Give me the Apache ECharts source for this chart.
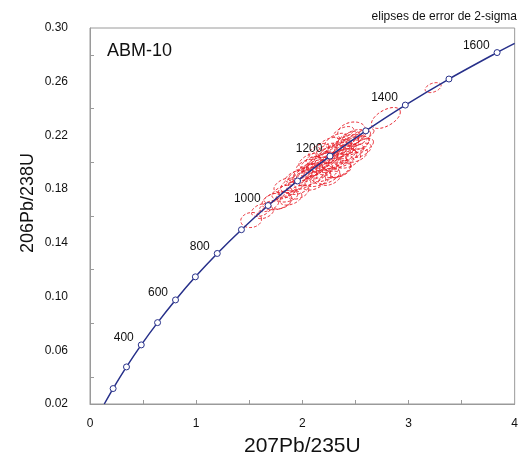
<!DOCTYPE html>
<html><head><meta charset="utf-8">
<script src="https://cdn.jsdelivr.net/npm/echarts@6/dist/echarts.min.js"></script>
<style>html,body{margin:0;padding:0;background:#fff}#c{width:521px;height:462px}</style>
</head><body><div id="c"></div>
<script>
// Concordia age markers (Ma) and their ratios
const markerAges = [200, 300, 400, 500, 600, 700, 800, 900, 1000, 1100, 1200, 1300, 1400, 1500, 1600];
const markerX = [0.2177, 0.3437, 0.4828, 0.6363, 0.8056, 0.9925, 1.1987, 1.4263, 1.6774, 1.9545, 2.2603, 2.5977, 2.9701, 3.3810, 3.8344];
const markerY = [0.0315, 0.0476, 0.0640, 0.0806, 0.0975, 0.1147, 0.1321, 0.1498, 0.1678, 0.1861, 0.2046, 0.2234, 0.2426, 0.2620, 0.2817];
const labeledAges = [400, 600, 800, 1000, 1200, 1400, 1600];
// Concordia curve (start at bottom edge, end at right edge)
const curveX = [0.1344, 0.2177, 0.3437, 0.4828, 0.6363, 0.8056, 0.9925, 1.1987, 1.4263, 1.6774, 1.9545, 2.2603, 2.5977, 2.9701, 3.3810, 3.8344, 4.0000];
const curveY = [0.0200, 0.0315, 0.0476, 0.0640, 0.0806, 0.0975, 0.1147, 0.1321, 0.1498, 0.1678, 0.1861, 0.2046, 0.2234, 0.2426, 0.2620, 0.2817, 0.2885];
// 2-sigma error ellipses: centre, half-widths, correlation
const ellipseCX = [1.518, 1.611, 1.686, 1.761, 1.714, 1.649, 1.827, 1.874, 1.920, 1.967, 1.930, 2.005, 1.855, 2.042, 2.080, 2.033, 2.117, 2.145, 2.173, 2.211, 2.136, 2.248, 2.286, 2.230, 2.323, 2.342, 2.379, 2.314, 2.417, 2.454, 2.436, 2.492, 2.529, 2.548, 2.464, 2.585, 2.361, 2.258, 2.192, 2.295, 2.398, 2.089, 1.986, 2.473, 2.787, 3.232, 2.108, 2.230, 2.342, 2.436, 2.511, 2.576, 1.967, 2.061, 2.155, 2.389, 1.799, 1.892,
                   2.136, 2.211, 2.276, 2.351, 2.417, 2.482, 2.173, 2.304, 2.023, 2.080, 2.389, 2.529, 1.827, 2.248];
const ellipseCY = [0.1570, 0.1644, 0.1674, 0.1711, 0.1733, 0.1622, 0.1778, 0.1800, 0.1837, 0.1822, 0.1896, 0.1867, 0.1748, 0.1926, 0.1896, 0.1978, 0.1956, 0.1881, 0.2000, 0.1926, 0.2037, 0.1985, 0.2052, 0.2089, 0.1956, 0.2089, 0.2030, 0.2163, 0.2126, 0.2074, 0.2178, 0.2126, 0.2178, 0.2089, 0.2230, 0.2207, 0.1941, 0.1881, 0.2030, 0.2015, 0.2089, 0.1941, 0.1904, 0.2163, 0.2330, 0.2556, 0.1852, 0.1896, 0.1941, 0.2015, 0.2052, 0.2126, 0.1778, 0.2015, 0.2089, 0.2222, 0.1696, 0.1733,
                   0.1978, 0.2015, 0.2074, 0.2111, 0.2148, 0.2185, 0.1941, 0.2000, 0.1904, 0.1993, 0.2052, 0.2141, 0.1830, 0.2141];
const ellipseSX = [0.098, 0.090, 0.090, 0.140, 0.075, 0.080, 0.113, 0.101, 0.124, 0.113, 0.090, 0.134, 0.101, 0.124, 0.146, 0.090, 0.113, 0.124, 0.134, 0.134, 0.101, 0.113, 0.124, 0.101, 0.134, 0.124, 0.134, 0.101, 0.113, 0.124, 0.101, 0.134, 0.113, 0.101, 0.130, 0.090, 0.101, 0.101, 0.113, 0.134, 0.113, 0.101, 0.113, 0.090, 0.136, 0.075, 0.112, 0.122, 0.112, 0.112, 0.103, 0.094, 0.094, 0.094, 0.094, 0.094, 0.094, 0.103,
                   0.122, 0.122, 0.112, 0.112, 0.112, 0.112, 0.112, 0.112, 0.112, 0.094, 0.112, 0.103, 0.094, 0.094];
const ellipseSY = [0.0056, 0.0048, 0.0042, 0.0065, 0.0035, 0.0042, 0.0053, 0.0053, 0.0062, 0.0062, 0.0044, 0.0071, 0.0044, 0.0062, 0.0071, 0.0044, 0.0062, 0.0062, 0.0071, 0.0071, 0.0053, 0.0062, 0.0062, 0.0053, 0.0071, 0.0062, 0.0071, 0.0053, 0.0062, 0.0062, 0.0053, 0.0071, 0.0062, 0.0053, 0.0070, 0.0044, 0.0053, 0.0053, 0.0053, 0.0062, 0.0053, 0.0053, 0.0053, 0.0044, 0.0078, 0.0037, 0.0059, 0.0059, 0.0059, 0.0059, 0.0052, 0.0052, 0.0052, 0.0052, 0.0052, 0.0044, 0.0044, 0.0052,
                   0.0059, 0.0059, 0.0059, 0.0059, 0.0059, 0.0059, 0.0059, 0.0059, 0.0059, 0.0052, 0.0052, 0.0052, 0.0052, 0.0044];
const ellipseRho = [0.1, 0.4, 0.6, 0.3, 0.5, 0.5, 0.5, 0.5, 0.5, 0.4, 0.6, 0.5, 0.3, 0.5, 0.5, 0.6, 0.5, 0.4, 0.6, 0.5, 0.6, 0.5, 0.6, 0.6, 0.4, 0.5, 0.5, 0.6, 0.6, 0.5, 0.6, 0.5, 0.6, 0.5, 0.2, 0.6, 0.5, 0.4, 0.6, 0.5, 0.6, 0.5, 0.5, 0.6, 0.55, 0.4, 0.4, 0.5, 0.5, 0.5, 0.5, 0.5, 0.4, 0.6, 0.6, 0.5, 0.4, 0.4,
                    0.5, 0.5, 0.5, 0.5, 0.5, 0.5, 0.4, 0.4, 0.5, 0.6, 0.5, 0.5, 0.5, 0.6];
// Axis ticks and labels
const xLabelValues = [0, 1, 2, 3, 4];
const xTickValues = [0.5, 1, 1.5, 2, 2.5, 3, 3.5];
const yLabelValues = [0.02, 0.06, 0.10, 0.14, 0.18, 0.22, 0.26, 0.30];
const yTickValues = [0.04, 0.08, 0.12, 0.16, 0.20, 0.24, 0.28];

const FONT = 'Liberation Sans, Arial, sans-serif';
const NAVY = '#27308a';
const RED = '#e8202a';
const AXIS = '#9a9a9a';

const ellipseData = ellipseCX.map((x, i) => [x, ellipseCY[i], ellipseSX[i], ellipseSY[i], ellipseRho[i]]);
const curveData = curveX.map((x, i) => [x, curveY[i]]);
const markerData = markerX.map((x, i) => [x, markerY[i], markerAges[i]]);

function renderEllipse(params, api) {
  const cx = api.value(0), cy = api.value(1), sx = api.value(2), sy = api.value(3), r = api.value(4);
  const k = Math.sqrt(1 - r * r);
  const pts = [];
  const n = 72;
  for (let i = 0; i <= n; i++) {
    const t = i / n * 2 * Math.PI;
    pts.push(api.coord([cx + sx * Math.cos(t), cy + sy * (r * Math.cos(t) + k * Math.sin(t))]));
  }
  return { type: 'polyline', shape: { points: pts }, style: { stroke: RED, fill: null, lineWidth: 1, lineDash: [3, 2] } };
}

const chart = echarts.init(document.getElementById('c'), null, { renderer: 'canvas' });
chart.setOption({
  animation: false,
  backgroundColor: '#fff',
  textStyle: { fontFamily: FONT },
  title: [
    { text: 'ABM-10', left: 107, top: 42, padding: 0, textStyle: { fontSize: 18, fontWeight: 'normal', color: '#111', fontFamily: FONT } },
    { text: 'elipses de error de 2-sigma', right: 4, top: 11, padding: 0, textStyle: { fontSize: 12, fontWeight: 'normal', color: '#111', fontFamily: FONT } }
  ],
  grid: { left: 90, right: 4, top: 28, bottom: 57, show: true, borderColor: AXIS, borderWidth: 1, backgroundColor: 'transparent' },
  xAxis: {
    type: 'value', min: 0, max: 4, interval: 0.5,
    name: '207Pb/235U', nameLocation: 'middle', nameGap: 32, nameMoveOverlap: false,
    nameTextStyle: { fontSize: 21, color: '#111', fontFamily: FONT },
    axisLine: { show: true, lineStyle: { color: AXIS } },
    axisTick: { show: true, inside: true, length: 4, lineStyle: { color: AXIS }, customValues: xTickValues },
    axisLabel: { customValues: xLabelValues, fontSize: 12, color: '#111', margin: 14, formatter: v => String(v) },
    splitLine: { show: false }
  },
  yAxis: {
    type: 'value', min: 0.02, max: 0.30, interval: 0.02,
    name: '206Pb/238U', nameLocation: 'middle', nameGap: 53, nameRotate: 90, nameMoveOverlap: false,
    nameTextStyle: { fontSize: 18, color: '#111', fontFamily: FONT, padding: [0, 0, 0, 26] },
    axisLine: { show: true, lineStyle: { color: AXIS } },
    axisTick: { show: true, inside: true, length: 4, lineStyle: { color: AXIS }, customValues: yTickValues },
    axisLabel: { customValues: yLabelValues, fontSize: 12, color: '#111', margin: 22, formatter: v => v.toFixed(2) },
    splitLine: { show: false }
  },
  series: [
    {
      type: 'custom', name: 'ellipses', renderItem: renderEllipse, data: ellipseData,
      encode: { x: 0, y: 1 }, z: 2, silent: true
    },
    {
      type: 'line', name: 'concordia', data: curveData, showSymbol: false, smooth: 0.3,
      lineStyle: { color: NAVY, width: 1.5 }, z: 3, silent: true
    },
    {
      type: 'scatter', name: 'ages', data: markerData, symbol: 'circle', symbolSize: 6,
      itemStyle: { color: '#fff', borderColor: NAVY, borderWidth: 1, opacity: 1 }, z: 4,
      label: {
        show: true, position: 'left', distance: 4, offset: [0, -7], fontSize: 12, color: '#111', fontFamily: FONT,
        formatter: p => labeledAges.indexOf(p.value[2]) >= 0 ? String(p.value[2]) : ''
      }
    }
  ]
});
</script></body></html>
